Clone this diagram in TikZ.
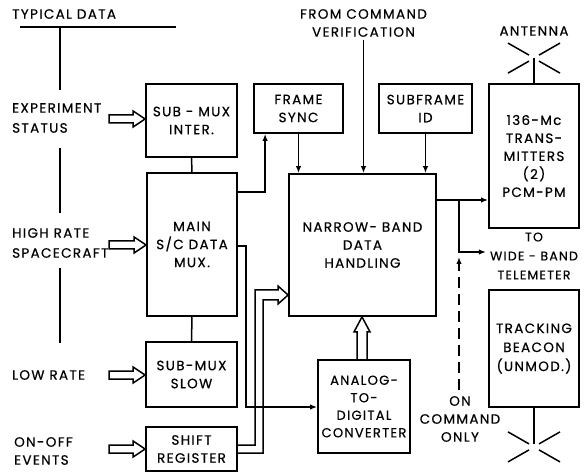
\documentclass[tikz,border=0pt]{standalone}
\usepackage{fontspec}
\setmainfont{Poppins}[LetterSpace=10,FakeBold=0.5]
\usetikzlibrary{arrows.meta,calc}
\newcommand\lbl{\fontsize{13.5}{18}\selectfont}
\newcommand\lblw{\fontsize{13.5}{20}\selectfont}
\newcommand\hollowright[2]{\draw[hol] let \p1=(#1), \p2=(#2) in (\x2,\y2) -- (\x2-12pt,\y2+8pt) -- (\x2-12pt,\y2+4pt) -- (\x1,\y2+4pt) -- (\x1,\y2-4pt) -- (\x2-12pt,\y2-4pt) -- (\x2-12pt,\y2-8pt) -- cycle;}
\begin{document}
\begin{tikzpicture}[x=1pt,y=-1pt,
  box/.style={draw, line width=1.8pt, inner sep=0pt, align=center, font=\lbl},
  lbl/.style={inner sep=0pt, align=center, font=\lbl},
  lblleft/.style={inner sep=0pt, align=left, anchor=west, font=\lblw},
  ln/.style={line width=1.5pt},
  arr/.style={line width=1.5pt, -{Latex[length=7pt,width=5.5pt]}},
  hol/.style={line width=1.5pt, line join=miter},
  antenna/.pic={\draw[line width=1.5pt] (-26,-15)--(-5,-3) (26,-15)--(5,-3) (-26,15)--(-5,3) (26,15)--(5,3);}]
\useasboundingbox (0,0) rectangle (584,473);
% boxes
\node[box,minimum width=91pt,minimum height=73pt] (smi) at (191.5,120.5) {SUB - MUX\\INTER.};
\node[box,minimum width=89pt,minimum height=49pt] (fs) at (298.5,108.5) {FRAME\\SYNC};
\node[box,minimum width=90pt,minimum height=143pt] (main) at (192,244.5) {MAIN\\S/C DATA\\MUX.};
\node[box,minimum width=91pt,minimum height=65pt] (sms) at (191.5,374.5) {SUB-MUX\\SLOW};
\node[box,minimum width=91pt,minimum height=44pt] (sr) at (191.5,449) {SHIFT\\REGISTER};
\node[box,minimum width=147pt,minimum height=142pt] (nb) at (362.5,245) {NARROW- BAND\\DATA\\HANDLING};
\node[box,minimum width=93pt,minimum height=49pt] (sf) at (425.5,108.5) {SUBFRAME\\ID};
\node[box,minimum width=90pt,minimum height=144pt] (tx) at (534,156) {136-Mc\\TRANS-\\MITTERS\\(2)\\PCM-PM};
\node[box,minimum width=92pt,minimum height=93pt,font=\fontsize{13}{17.5}\selectfont] (adc) at (364,406.5) {ANALOG-\\TO-\\DIGITAL\\CONVERTER};
\node[box,minimum width=90pt,minimum height=117pt,font=\fontsize{13.5}{19}\selectfont] (tb) at (534,348.5) {TRACKING\\BEACON\\(UNMOD.)};
% labels
\node[lblleft] (typ) at (12,14) {TYPICAL DATA};
\node[lblleft] (exp) at (12,118) {EXPERIMENT\\STATUS};
\node[lblleft] (high) at (12,243) {HIGH RATE\\SPACECRAFT};
\node[lblleft] (low) at (12,375) {LOW RATE};
\node[lblleft,font=\lbl] (onoff) at (14,451) {ON-OFF\\EVENTS};
\node[lbl] (cmd) at (363.5,23) {FROM COMMAND\\VERIFICATION};
\node[lbl] (ant) at (534,31) {ANTENNA};
\node[lbl,font=\fontsize{12.5}{19}\selectfont] (wb) at (534,256) {TO\\WIDE - BAND\\TELEMETER};
\node[lbl] (onc) at (460,419) {ON\\COMMAND\\ONLY};
% typical data bracket
\draw[ln] (20,27) -- (176,27);
\draw[ln] (60,27) -- (60,90);
\draw[ln] (60,148) -- (60,213);
\draw[ln] (60,268) -- (60,343);
% input hollow arrows
\coordinate (a1) at (109,119);
\coordinate (a2) at (109,245);
\coordinate (a3) at (109,375);
\coordinate (a4) at (109,449);
\hollowright{a1}{smi.west |- a1}
\hollowright{a2}{main.west |- a2}
\hollowright{a3}{sms.west |- a3}
\hollowright{a4}{sr.west |- a4}
% connectors
\draw[ln] (smi.south) -- (main.north);
\draw[ln] (main.south) -- (sms.north);
\draw[arr] (main.east |- 0,192) -| ($(fs.south west)+(12,0)$);
\draw[arr] (fs.south) -- (fs.south |- nb.north);
\draw[arr] ($(cmd.south)+(0,3)$) -- (cmd.south |- nb.north);
\draw[arr] (sf.south) -- (sf.south |- nb.north);
\coordinate (j) at (459,200);
\coordinate (j2) at (459,252);
\draw[arr] (nb.east |- j) -- (tx.west |- j);
\draw[arr] (j) -- (j2) -- ($(wb.west |- j2)+(-4,0)$);
\draw[arr,dash pattern=on 11pt off 6pt,shorten >=5pt] ($(onc.north)+(-1,-6)$) -- (j2);
\draw[arr] (main.east |- 0,246) -- (246,246) -- (246,407) -- (adc.west |- 0,407);
% double line arrow from shift register
\draw[hol] (sr.east |- 0,445) -- (255,445) -- (255,290) -- (278,290) -- (278,286) -- (nb.west |- 0,295) -- (278,304) -- (278,300) -- (263,300) -- (263,453) -- (sr.east |- 0,453);
% hollow arrow ADC -> NB
\draw[hol] let \p1=(adc.north), \p2=(nb.south) in (\x1-7pt,\y1) -- (\x1-7pt,\y2-15pt) -- (\x1-10pt,\y2-15pt) -- (\x1-2pt,\y2) -- (\x1+6pt,\y2-15pt) -- (\x1+3pt,\y2-15pt) -- (\x1+3pt,\y1);
% antennas
\draw[ln] ($(tx.north)+(0,-25)$) -- (tx.north);
\pic at ($(tx.north)+(0,-25)$) {antenna};
\draw[ln] (tb.south) -- ++(0,36);
\pic at ($(tb.south)+(0,39)$) {antenna};
\end{tikzpicture}
\end{document}
